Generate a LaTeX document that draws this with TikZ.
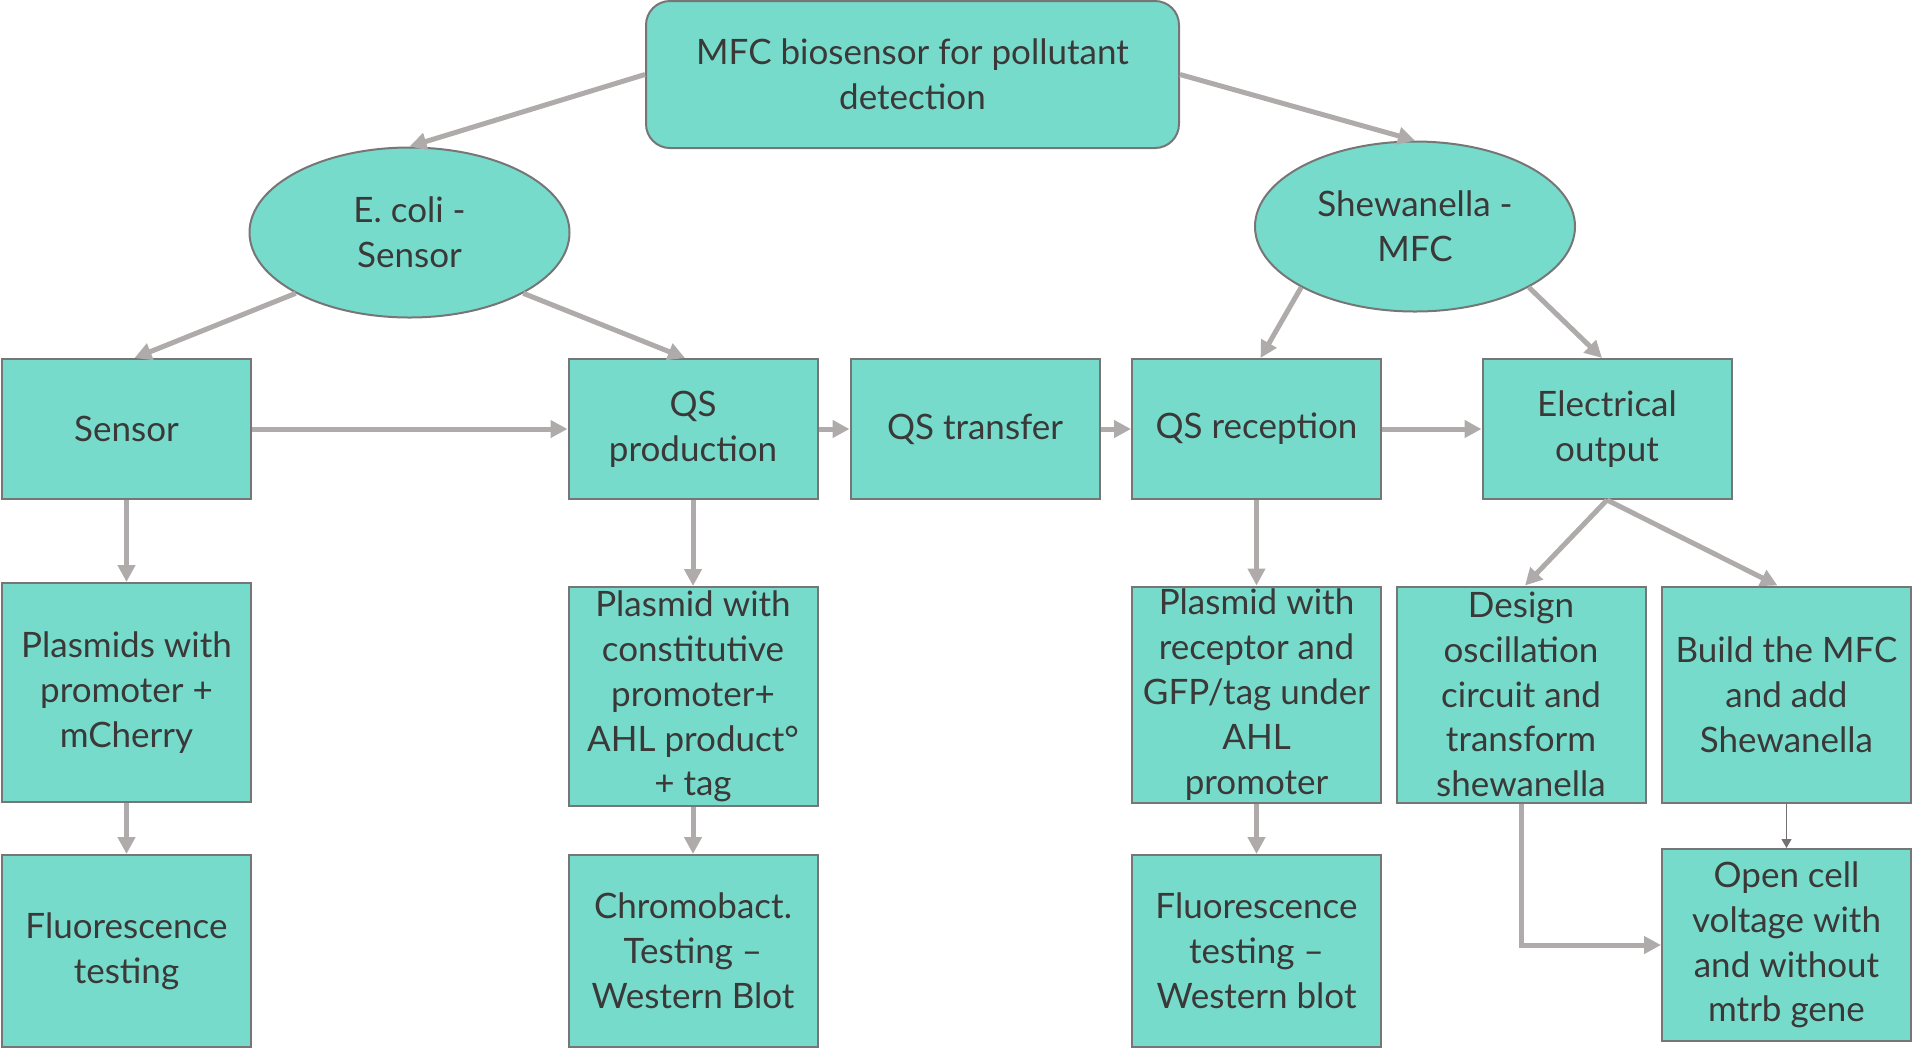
\documentclass[tikz,border=0pt]{standalone}
\usepackage{fontspec}
\setmainfont{Lato}
\usepackage{xcolor}
\usetikzlibrary{shapes,arrows.meta,positioning,calc}
\definecolor{boxfill}{RGB}{119,219,204}
\definecolor{boxline}{RGB}{118,118,118}
\definecolor{flowgray}{RGB}{175,171,171}
\definecolor{thingray}{RGB}{118,113,113}
\definecolor{txtgray}{RGB}{59,56,56}

\begin{document}
\begin{tikzpicture}[x=0.5pt,y=-0.5pt,
    base/.style={fill=boxfill,draw=boxline,line width=1pt,text=txtgray,
      align=center,inner sep=0pt,font=\fontsize{17.5}{22.4}\selectfont},
    stage/.style={base,rectangle,minimum width=124.5pt,minimum height=70pt},
    task/.style={base,rectangle,minimum width=124.5pt,minimum height=108pt},
    check/.style={base,rectangle,minimum width=124.5pt,minimum height=96pt},
    organism/.style={base,ellipse,minimum width=160pt,minimum height=85pt},
    flow/.style={draw=flowgray,line width=2.5pt,-{Triangle[length=8.5pt,width=8.5pt]}},
    thinflow/.style={draw=thingray,line width=0.5pt,-{Triangle[length=4.5pt,width=5pt]}}]

  \useasboundingbox (0,0) rectangle (1926,1057);

  \node[base,rounded corners=12pt,minimum width=266.5pt,minimum height=73.5pt]
    (goal) at (912.5,74.5) {MFC biosensor for pollutant\\detection};

  \node[organism] (ecoli) at (409.5,232.5) {E. coli -\\Sensor};
  \node[organism] (shew) at (1415,226.5) {Shewanella -\\MFC};

  \node[stage] (sensor) at (126.5,429) {Sensor};
  \node[stage] (qsprod) at (693,429) {QS\\production};
  \node[stage] (qstrans) at (975,429) {QS transfer};
  \node[stage] (qsrec) at (1256.5,429) {QS reception};
  \node[stage] (elec) at (1607,429) {Electrical\\output};

  \node[task,minimum height=109.5pt] (plasmids) at (126.5,692.5)
    {Plasmids with\\promoter +\\mCherry};
  \node[task,minimum height=109.5pt] (plasconst) at (693,696.5)
    {Plasmid with\\constitutive\\promoter+\\AHL product°\\+ tag};
  \node[task] (plasrec) at (1256.5,694.5)
    {Plasmid with\\receptor and\\GFP/tag under\\AHL\\promoter};
  \node[task] (design) at (1521,694.5)
    {Design\\oscillation\\circuit and\\transform\\shewanella};
  \node[task] (build) at (1786.5,694.5) {Build the MFC\\and add\\Shewanella};

  \node[check] (fluor) at (126.5,951) {Fluorescence\\testing};
  \node[check] (chromo) at (693,951) {Chromobact.\\Testing –\\Western Blot};
  \node[check] (fluorwb) at (1256.5,951) {Fluorescence\\testing –\\Western blot};
  \node[check] (opencell) at (1786.5,945)
    {Open cell\\voltage with\\and without\\mtrb gene};

  \draw[flow] (goal.west) -- (ecoli.north);
  \draw[flow] (goal.east) -- (shew.north);
  \draw[flow] (ecoli.south west) -- ([xshift=4pt]sensor.north);
  \draw[flow] (ecoli.south east) -- ([xshift=-4pt]qsprod.north);
  \draw[flow] (shew.south west) -- ([xshift=2pt]qsrec.north);
  \draw[flow] (shew.south east) -- ([xshift=-2.5pt]elec.north);

  \draw[flow] (sensor) -- (qsprod);
  \draw[flow] (qsprod) -- (qstrans);
  \draw[flow] (qstrans) -- (qsrec);
  \draw[flow] (qsrec) -- (elec);

  \draw[flow] (sensor) -- (plasmids);
  \draw[flow] (plasmids) -- (fluor);
  \draw[flow] (qsprod) -- (plasconst);
  \draw[flow] (plasconst) -- (chromo);
  \draw[flow] (qsrec) -- (plasrec);
  \draw[flow] (plasrec) -- (fluorwb);
  \draw[flow] (elec.south) -- ([xshift=2pt]design.north);
  \draw[flow] (elec.south) -- ([xshift=-4.5pt]build.north);
  \draw[flow] (design.south) |- (opencell.west);
  \draw[thinflow] (build) -- (opencell);
\end{tikzpicture}
\end{document}
